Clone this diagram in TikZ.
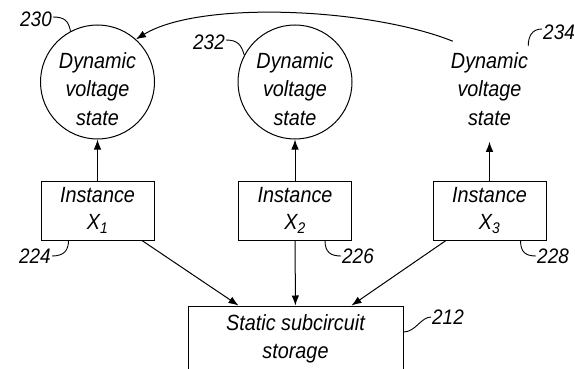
\documentclass[tikz,border=0pt]{standalone}
\usepackage{fontspec}
\setmainfont{Liberation Sans}[FakeStretch=0.9]
\usetikzlibrary{arrows.meta,positioning}

\begin{document}
\begin{tikzpicture}[
  x=1pt, y=-1pt,
  font=\fontsize{22}{28.5}\selectfont\itshape,
  every node/.style={align=center},
  dvcircle/.style={circle, draw, line width=1pt, minimum size=114pt,
                   inner sep=0pt},
  dvtext/.style={inner sep=0pt},
  instbox/.style={rectangle, draw, line width=1pt, minimum width=113pt,
                  minimum height=59pt, inner sep=0pt,
                  font=\fontsize{22}{27}\selectfont\itshape},
  storebox/.style={rectangle, draw, line width=1pt, minimum width=215pt,
                   minimum height=66pt, inner sep=0pt},
  reflab/.style={font=\fontsize{21}{21}\selectfont\itshape, inner sep=1pt},
  refline/.style={line width=0.9pt},
  flow/.style={-{Latex[length=10pt,width=7.5pt]}, line width=1pt}
]
\useasboundingbox (0,0) rectangle (575,369);

% ---- Dynamic voltage states ---------------------------------------------------
\node[dvcircle] (dvs1) at (97.5, 82) {};
\node[dvtext] (txt1) at (97.5, 89) {Dynamic\\voltage\\state};
\node[dvcircle] (dvs2) at (295, 82) {};
\node[dvtext] (txt2) at (295, 89) {Dynamic\\voltage\\state};
\node[dvtext] (dvs3) at (489.5, 89) {Dynamic\\voltage\\state};

% ---- Instances ------------------------------------------------------------------
\node[instbox] (inst1) at (97.5, 210.5) {Instance\\X\textsubscript{1}};
\node[instbox] (inst2) at (295, 210.5) {Instance\\X\textsubscript{2}};
\node[instbox] (inst3) at (489.5, 210.5) {Instance\\X\textsubscript{3}};

% ---- Storage --------------------------------------------------------------------
\node[storebox] (store) at (295.5, 339) {Static subcircuit\\storage};

% ---- Connectors -----------------------------------------------------------------
\draw[flow] (inst1) -- (dvs1);
\draw[flow] (inst2) -- (dvs2);
\draw[flow, shorten >=16pt] (inst3.north) -- (dvs3.south);

\draw[flow] (inst1) -- ([xshift=-57pt]store.north);
\draw[flow] (inst2) -- (store);
\draw[flow] (inst3) -- ([xshift=56pt]store.north);

\draw[flow] ([shift={(2pt,11pt)}]dvs3.north west)
  .. controls (370, 8) and (200, 0) .. (dvs1.48);

% ---- Reference numerals ---------------------------------------------------------
\node[reflab] (n230) at (36, 19) {230};
\node[reflab] (n232) at (209, 42) {232};
\node[reflab] (n234) at (559, 32) {234};
\node[reflab] (n224) at (35, 256) {224};
\node[reflab] (n226) at (358, 256) {226};
\node[reflab] (n228) at (553, 256) {228};
\node[reflab] (n212) at (448, 317) {212};

\draw[refline] ([yshift=2pt]n230.east) .. controls +(12,0) and +(-2,-10) .. (dvs1.118);
\draw[refline] ([yshift=2pt]n232.east) .. controls +(12,0) and +(-3,-10) .. (dvs2.152);
\draw[refline] ([yshift=3pt]n234.west) .. controls +(-10,0) and +(0,-10) .. ([yshift=6pt]dvs3.north east);
\draw[refline] (n224.east) .. controls +(12,0) and +(0,10) .. ([xshift=28pt]inst1.south west);
\draw[refline] ([xshift=-27pt]inst2.south east) .. controls +(0,12) and +(-10,0) .. (n226.west);
\draw[refline] ([xshift=-26pt]inst3.south east) .. controls +(0,12) and +(-10,0) .. (n228.west);
\draw[refline] ([yshift=7pt]store.east) .. controls +(12,0) and +(-10,0) .. (n212.west);

\end{tikzpicture}
\end{document}
